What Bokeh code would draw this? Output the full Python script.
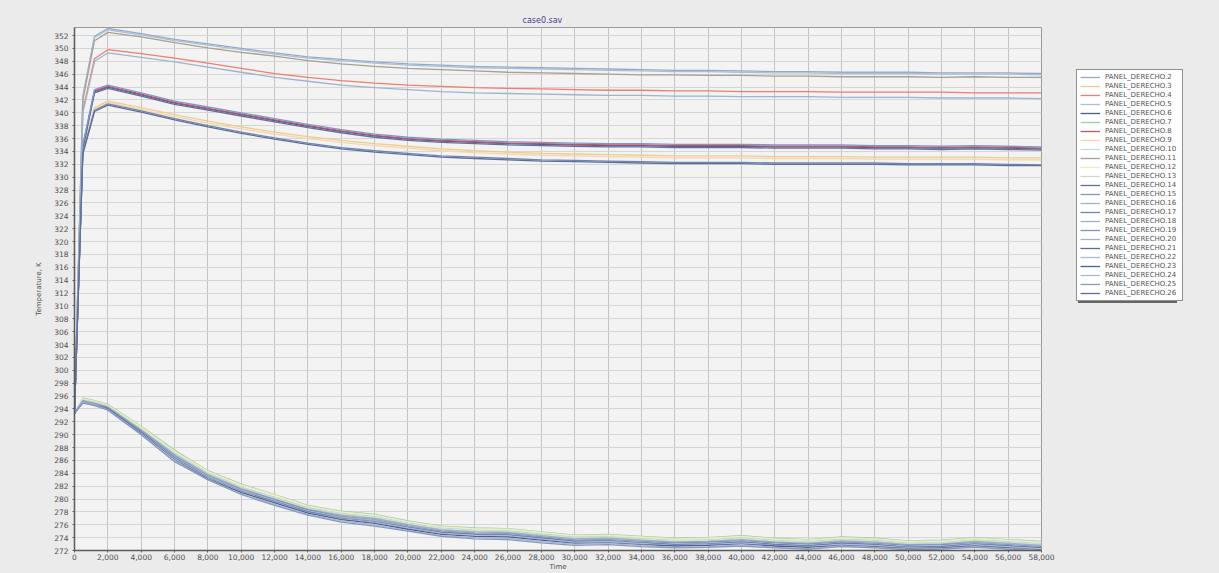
from bokeh.plotting import figure
from bokeh.layouts import row
from bokeh.models import (Legend, LegendItem, SingleIntervalTicker,
                          NumeralTickFormatter, Range1d)
from bokeh.embed import file_html
from bokeh.resources import INLINE

# ---------------- data ----------------
time = [0, 500, 1200, 2000, 4000, 6000, 8000, 10000, 12000, 14000, 16000, 18000,
        20000, 22000, 24000, 26000, 28000, 30000, 32000, 34000, 36000, 38000,
        40000, 42000, 44000, 46000, 48000, 50000, 52000, 54000, 56000, 58000]

panel_2 = [293.3, 342.6, 351.9, 353.1, 352.3, 351.4, 350.7, 350.0, 349.3, 348.7, 348.3, 347.9, 347.6, 347.4, 347.2, 347.1,
           347.0, 346.9, 346.8, 346.7, 346.6, 346.6, 346.5, 346.4, 346.4, 346.3, 346.3, 346.3, 346.2, 346.2, 346.2, 346.1]
panel_3 = [293.3, 334.2, 340.8, 341.8, 340.8, 339.7, 338.7, 337.8, 337.0, 336.3, 335.7, 335.2, 334.8, 334.4, 334.1, 333.9,
           333.7, 333.6, 333.5, 333.4, 333.3, 333.3, 333.3, 333.2, 333.2, 333.2, 333.1, 333.1, 333.1, 333.1, 333.0, 333.0]
panel_4 = [293.3, 340.4, 348.4, 349.8, 349.2, 348.5, 347.7, 346.9, 346.1, 345.5, 345.0, 344.6, 344.3, 344.1, 343.9, 343.8,
           343.7, 343.6, 343.5, 343.5, 343.4, 343.4, 343.3, 343.3, 343.3, 343.2, 343.2, 343.2, 343.2, 343.1, 343.1, 343.1]
panel_5 = [293.3, 342.4, 351.7, 352.9, 352.1, 351.2, 350.5, 349.8, 349.1, 348.5, 348.1, 347.7, 347.4, 347.2, 347.0, 346.9,
           346.8, 346.7, 346.6, 346.5, 346.4, 346.4, 346.3, 346.2, 346.2, 346.1, 346.1, 346.1, 346.0, 346.0, 346.0, 345.9]
panel_6 = [293.3, 334.6, 343.3, 344.0, 342.8, 341.5, 340.6, 339.7, 338.8, 337.9, 337.1, 336.4, 335.9, 335.6, 335.4, 335.2,
           335.1, 335.0, 334.9, 334.9, 334.8, 334.8, 334.8, 334.7, 334.7, 334.7, 334.6, 334.6, 334.5, 334.6, 334.5, 334.4]
panel_7 = [293.3, 295.7, 295.3, 294.7, 291.3, 287.6, 284.4, 282.3, 280.7, 279.0, 278.1, 277.6, 276.6, 275.8, 275.5, 275.4,
           274.9, 274.4, 274.5, 274.2, 273.9, 274.0, 274.3, 273.9, 273.7, 274.1, 273.9, 273.5, 273.6, 274.0, 273.7, 273.4]
panel_8 = [293.3, 334.8, 343.4, 344.1, 342.9, 341.6, 340.7, 339.8, 338.9, 338.0, 337.2, 336.5, 336.0, 335.7, 335.5, 335.3,
           335.2, 335.1, 335.0, 335.0, 334.9, 334.9, 334.9, 334.8, 334.8, 334.8, 334.7, 334.7, 334.6, 334.7, 334.6, 334.5]
panel_9 = [293.3, 334.0, 340.6, 341.6, 340.5, 339.4, 338.4, 337.5, 336.7, 336.0, 335.4, 334.9, 334.5, 334.1, 333.8, 333.6,
           333.4, 333.3, 333.2, 333.1, 333.0, 333.0, 333.0, 332.9, 332.9, 332.9, 332.8, 332.8, 332.8, 332.8, 332.7, 332.7]
panel_10 = [293.3, 295.5, 295.1, 294.5, 291.0, 287.2, 284.1, 281.9, 280.3, 278.7, 277.8, 277.3, 276.3, 275.5, 275.2, 275.1,
            274.6, 274.1, 274.2, 273.9, 273.6, 273.7, 274.0, 273.6, 273.4, 273.8, 273.6, 273.2, 273.3, 273.7, 273.4, 273.1]
panel_11 = [293.3, 342.0, 351.2, 352.5, 351.8, 350.9, 350.1, 349.4, 348.8, 348.1, 347.6, 347.2, 346.9, 346.7, 346.5, 346.3,
            346.2, 346.1, 346.0, 345.9, 345.9, 345.8, 345.8, 345.7, 345.7, 345.6, 345.6, 345.6, 345.5, 345.6, 345.5, 345.5]
panel_12 = [293.3, 295.6, 295.2, 294.6, 291.2, 287.4, 284.3, 282.2, 280.6, 278.9, 278.0, 277.5, 276.5, 275.7, 275.4, 275.3,
            274.8, 274.3, 274.4, 274.1, 273.8, 273.9, 274.2, 273.8, 273.6, 274.0, 273.8, 273.4, 273.5, 273.9, 273.6, 273.3]
panel_13 = [293.3, 295.4, 295.0, 294.4, 290.8, 287.0, 283.9, 281.8, 280.2, 278.6, 277.6, 277.1, 276.1, 275.3, 275.0, 274.9,
            274.4, 273.9, 274.0, 273.7, 273.4, 273.5, 273.8, 273.4, 273.2, 273.6, 273.4, 273.0, 273.1, 273.5, 273.2, 272.9]
panel_14 = [293.3, 334.3, 343.1, 343.8, 342.6, 341.3, 340.4, 339.5, 338.6, 337.7, 336.9, 336.2, 335.7, 335.4, 335.2, 335.0,
            334.9, 334.8, 334.7, 334.7, 334.6, 334.6, 334.6, 334.5, 334.5, 334.5, 334.4, 334.4, 334.3, 334.4, 334.3, 334.2]
panel_15 = [293.3, 335.0, 343.6, 344.3, 343.1, 341.8, 340.9, 340.0, 339.1, 338.2, 337.4, 336.7, 336.2, 335.9, 335.7, 335.5,
            335.4, 335.3, 335.2, 335.2, 335.1, 335.1, 335.1, 335.0, 335.0, 335.0, 334.9, 334.9, 334.8, 334.9, 334.8, 334.7]
panel_16 = [293.3, 340.0, 348.0, 349.3, 348.6, 347.9, 347.1, 346.3, 345.5, 344.9, 344.3, 343.9, 343.6, 343.3, 343.1, 343.0,
            342.9, 342.8, 342.7, 342.7, 342.6, 342.6, 342.5, 342.5, 342.5, 342.4, 342.4, 342.4, 342.3, 342.3, 342.3, 342.2]
panel_17 = [293.3, 333.8, 340.4, 341.4, 340.3, 339.1, 338.0, 337.0, 336.1, 335.3, 334.6, 334.1, 333.7, 333.3, 333.1, 332.9,
            332.7, 332.6, 332.5, 332.4, 332.3, 332.3, 332.3, 332.2, 332.2, 332.2, 332.2, 332.1, 332.1, 332.1, 332.0, 331.9]
panel_18 = [293.3, 295.3, 294.9, 294.3, 290.7, 286.9, 283.8, 281.6, 280.0, 278.4, 277.5, 277.0, 276.0, 275.2, 274.9, 274.8,
            274.3, 273.8, 273.9, 273.6, 273.3, 273.4, 273.7, 273.3, 273.1, 273.5, 273.3, 272.9, 273.0, 273.4, 273.1, 272.8]
panel_19 = [293.3, 295.2, 294.8, 294.2, 290.6, 286.7, 283.6, 281.5, 279.9, 278.3, 277.3, 276.8, 275.8, 275.0, 274.7, 274.6,
            274.1, 273.6, 273.7, 273.4, 273.2, 273.3, 273.5, 273.2, 273.0, 273.3, 273.1, 272.8, 272.9, 273.2, 272.9, 272.6]
panel_20 = [293.3, 295.2, 294.8, 294.2, 290.5, 286.6, 283.5, 281.4, 279.8, 278.1, 277.2, 276.7, 275.7, 274.9, 274.6, 274.5,
            274.0, 273.5, 273.6, 273.3, 273.0, 273.1, 273.4, 273.0, 272.8, 273.2, 273.0, 272.6, 272.7, 273.1, 272.8, 272.5]
panel_21 = [293.3, 295.1, 294.7, 294.1, 290.4, 286.4, 283.3, 281.2, 279.6, 278.0, 277.0, 276.5, 275.6, 274.8, 274.5, 274.4,
            273.9, 273.4, 273.5, 273.2, 272.9, 273.0, 273.3, 272.9, 272.7, 273.1, 272.9, 272.5, 272.6, 273.0, 272.7, 272.4]
panel_22 = [293.3, 295.1, 294.7, 294.0, 290.3, 286.3, 283.2, 281.1, 279.5, 277.9, 276.9, 276.4, 275.5, 274.7, 274.4, 274.3,
            273.8, 273.3, 273.4, 273.1, 272.8, 272.9, 273.2, 272.8, 272.6, 273.0, 272.8, 272.4, 272.5, 272.9, 272.6, 272.3]
panel_23 = [293.3, 295.0, 294.6, 294.0, 290.2, 286.1, 283.1, 281.0, 279.4, 277.8, 276.8, 276.2, 275.3, 274.5, 274.2, 274.1,
            273.6, 273.1, 273.2, 272.9, 272.7, 272.8, 273.0, 272.7, 272.5, 272.8, 272.6, 272.3, 272.4, 272.7, 272.4, 272.1]
panel_24 = [293.3, 295.0, 294.6, 293.9, 290.1, 286.0, 283.0, 280.8, 279.2, 277.6, 276.6, 276.0, 275.1, 274.3, 274.0, 273.9,
            273.4, 273.0, 273.1, 272.8, 272.5, 272.6, 272.9, 272.5, 272.3, 272.7, 272.5, 272.2, 272.3, 272.6, 272.3, 272.0]
panel_25 = [293.3, 294.9, 294.5, 293.8, 290.0, 285.8, 283.0, 280.7, 279.0, 277.5, 276.4, 275.8, 275.0, 274.2, 273.8, 273.7,
            273.2, 272.8, 272.9, 272.6, 272.4, 272.5, 272.7, 272.4, 272.2, 272.6, 272.4, 272.1, 272.2, 272.5, 272.2, 271.9]
panel_26 = [293.3, 333.6, 340.2, 341.2, 340.1, 338.9, 337.8, 336.8, 335.9, 335.1, 334.4, 333.9, 333.5, 333.1, 332.9, 332.7,
            332.5, 332.4, 332.3, 332.2, 332.1, 332.1, 332.1, 332.0, 332.0, 332.0, 332.0, 331.9, 331.9, 331.9, 331.8, 331.8]

series_names = ["PANEL_DERECHO.%d" % i for i in range(2, 27)]
series_values = [panel_2, panel_3, panel_4, panel_5, panel_6, panel_7, panel_8, panel_9, panel_10,
                 panel_11, panel_12, panel_13, panel_14, panel_15, panel_16, panel_17, panel_18,
                 panel_19, panel_20, panel_21, panel_22, panel_23, panel_24, panel_25, panel_26]
series_colors = ["#94aac4", "#f0cc8c", "#ee7e6e", "#a8c0da", "#4c5a8a", "#9ccab4", "#c8506a",
                 "#f4d6b0", "#b8e0d4", "#a8a090", "#eeeeb4", "#d4d4d4", "#5a729c", "#7e98c4",
                 "#9cb4d0", "#6c86b4", "#9cb0c8", "#7f92b8", "#a0b2cc", "#5c6c9c", "#aabcd2",
                 "#4e5e90", "#a8bad4", "#8898bc", "#5e6e9a"]

BG = "#ebebeb"

# ---------------- main figure ----------------
p = figure(width=1062, height=573, output_backend="svg", toolbar_location=None,
           x_range=Range1d(0, 58000), y_range=Range1d(272, 353.25),
           min_border_left=74, min_border_right=21, min_border_top=27, min_border_bottom=22,
           background_fill_color="#f3f3f3", border_fill_color=BG,
           title="case0.sav")

p.title.text_font = "DejaVu Sans"
p.title.text_font_size = "8px"
p.title.text_font_style = "normal"
p.title.text_color = "#4a3f8c"
p.title.align = "left"
p.title.offset = 448
p.title.standoff = 5

p.outline_line_color = "#9a9a9a"
p.outline_line_width = 1

p.xaxis.ticker = SingleIntervalTicker(interval=2000, num_minor_ticks=0)
p.yaxis.ticker = SingleIntervalTicker(interval=2, num_minor_ticks=0)
p.xaxis.formatter = NumeralTickFormatter(format="0,0")

for ax in (p.xaxis, p.yaxis):
    ax.axis_line_color = "#5a5a5a"
    ax.axis_line_width = 1.5
    ax.major_tick_line_color = "#5a5a5a"
    ax.major_tick_out = 2
    ax.major_tick_in = 0
    ax.minor_tick_line_color = None
    ax.major_label_text_font = "DejaVu Sans"
    ax.major_label_text_font_size = "7.5px"
    ax.major_label_text_color = "#505050"
    ax.major_label_standoff = 2
    ax.axis_label_text_font = "DejaVu Sans"
    ax.axis_label_text_font_size = "7px"
    ax.axis_label_text_font_style = "normal"
    ax.axis_label_text_color = "#505050"
    ax.axis_label_standoff = 0

p.xaxis.major_label_standoff = 1
p.yaxis.major_label_standoff = 4
p.yaxis.axis_label_standoff = 8

p.xaxis.axis_label = "Time"
p.yaxis.axis_label = "Temperature, K"

p.xgrid.grid_line_color = "#c4c4c4"
p.ygrid.grid_line_color = "#d6d6d6"

for vals, col in zip(series_values, series_colors):
    p.line(time, vals, line_color=col, line_width=1.3)

# ---------------- legend panel ----------------
lp = figure(width=157, height=573, output_backend="svg", toolbar_location=None,
            x_axis_type=None, y_axis_type=None,
            x_range=Range1d(0, 1), y_range=Range1d(0, 1),
            min_border=0, outline_line_color=None,
            background_fill_color=BG, border_fill_color=BG)
lp.grid.visible = False

items = []
shadow_items = []
for name, vals, col in zip(series_names, series_values, series_colors):
    r = lp.line(time, vals, line_color=col, line_width=1.3)
    items.append(LegendItem(label=name, renderers=[r]))
    shadow_items.append(LegendItem(label=" ", renderers=[r]))


def make_legend(its, loc):
    lg = Legend(items=its, location=loc)
    lg.label_text_font = "DejaVu Sans"
    lg.label_text_font_size = "7px"
    lg.label_text_color = "#555555"
    lg.glyph_width = 20
    lg.glyph_height = 8
    lg.label_height = 8
    lg.label_width = 74
    lg.label_standoff = 5
    lg.spacing = 1
    lg.padding = 3
    lg.margin = 0
    lg.border_line_color = "#222222"
    lg.border_line_width = 1
    lg.background_fill_color = "white"
    lg.background_fill_alpha = 1.0
    return lg


shadow = make_legend(shadow_items, (16, 247))
shadow.background_fill_color = "#666666"
shadow.border_line_color = None
lp.add_layout(shadow)

legend = make_legend(items, (14, 249))
lp.add_layout(legend)

layout = row(p, lp)
html = file_html(layout, INLINE)
html = html.replace("<body>", '<body style="background-color:#ebebeb">')
open("out.html", "w").write(html)
